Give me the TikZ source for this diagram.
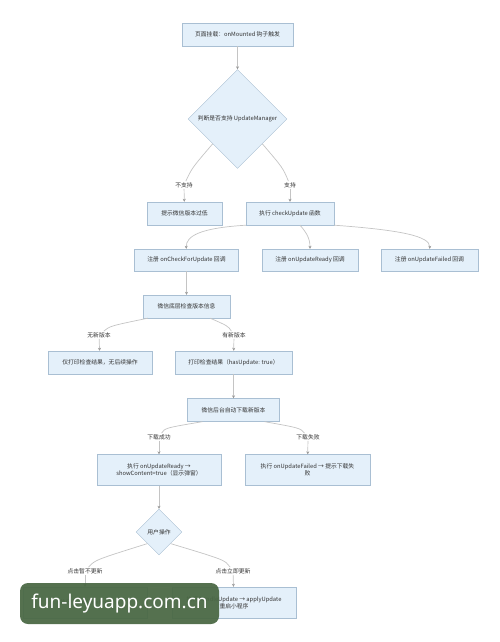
\documentclass[tikz,border=0pt]{standalone}
\usepackage{fontspec}
\setmainfont{Noto Sans CJK SC}
\newfontfamily\wmfont{Noto Sans}
\usepackage{tikz}
\usetikzlibrary{arrows.meta, shapes.geometric}
\definecolor{boxfill}{HTML}{E4F0FA}
\definecolor{boxline}{HTML}{A9BFD3}
\definecolor{wire}{HTML}{C4C4C4}
\definecolor{tipgray}{HTML}{9A9A9A}
\definecolor{ink}{HTML}{333333}
\definecolor{wmgreen}{HTML}{4A6844}

\begin{document}
\begin{tikzpicture}[x=1pt, y=-1pt, font=\fontsize{5.8}{7.4}\selectfont,
  bx/.style={draw=boxline, fill=boxfill, minimum width=#1, minimum height=23pt,
             inner sep=2pt, text=ink, align=center},
  dm/.style={diamond, draw=boxline, fill=boxfill, minimum width=#1, minimum height=#1,
             inner sep=0pt, text=ink},
  lb/.style={fill=white, inner sep=1pt, text=ink},
  ln/.style={draw=wire, line width=0.7pt},
  ar/.style={ln, -{Stealth[length=3pt, width=3pt, color=tipgray]}},
  wm/.style={fill=wmgreen, fill opacity=0.94, text opacity=1, rounded corners=8pt,
             minimum width=199pt, minimum height=41pt, text=white,
             font=\wmfont\fontsize{19}{22}\selectfont}]
  \useasboundingbox (0,0) rectangle (500,642);
  % --- start and check ---
  \node[bx=111pt] (top) at (237.5,34.5) {页面挂载：onMounted 钩子触发};
  \node[dm=99pt] (d1) at (237.5,119) {判断是否支持 UpdateManager};
  \node[lb] (lns) at (184,185) {不支持};
  \node[lb] (ls) at (290,185) {支持};
  \node[bx=75pt] (low) at (184.5,213.5) {提示微信版本过低};
  \node[bx=88pt] (chk) at (290,213.5) {执行 checkUpdate 函数};
  % --- callbacks ---
  \node[bx=104pt, minimum height=22pt] (r1) at (186.5,260) {注册 onCheckForUpdate 回调};
  \node[bx=96pt, minimum height=22pt] (r2) at (310,260) {注册 onUpdateReady 回调};
  \node[bx=97pt, minimum height=22pt] (r3) at (429.5,260) {注册 onUpdateFailed 回调};
  % --- version check ---
  \node[bx=87pt] (info) at (186.5,306.5) {微信底层检查版本信息};
  \node[lb] (lnone) at (99,335) {无新版本};
  \node[lb] (lhas) at (234,335) {有新版本};
  \node[bx=104pt] (none) at (100,362.5) {仅打印检查结果，无后续操作};
  \node[bx=117pt] (has) at (233.5,362.5) {打印检查结果（hasUpdate: true）};
  % --- download ---
  \node[bx=92pt] (dl) at (233.5,410) {微信后台自动下载新版本};
  \node[lb] (lok) at (159,437) {下载成功};
  \node[lb] (lbad) at (308,437) {下载失败};
  \node[bx=124pt, minimum height=31pt] (ready) at (159,470)
    {执行 onUpdateReady →\\showContent=true（显示弹窗）};
  \node[bx=125pt, minimum height=31pt] (failed) at (307.5,470)
    {执行 onUpdateFailed → 提示下载失\\败};
  % --- user choice ---
  \node[dm=46pt] (d2) at (159,532) {用户操作};
  \node[lb] (lno) at (85,571) {点击暂不更新};
  \node[lb] (lyes) at (233,571) {点击立即更新};
  \node[bx=124pt, minimum height=31pt] (refuse) at (85,602.5) {执行 handleRefuse};
  \node[bx=124pt, minimum height=31pt] (upd) at (234,602.5)
    {执行 handleUpdate → applyUpdate\\重启小程序};
  % --- connectors ---
  \draw[ar] (top) -- (d1);
  \draw[ln] (d1.south west) .. controls (192,168) .. (lns);
  \draw[ar] (lns) -- (low);
  \draw[ln] (d1.south east) .. controls (283,168) .. (ls);
  \draw[ar] (ls) -- (chk);
  \draw[ar] (chk.south west) .. controls (200,228) and (186,236) .. (r1);
  \draw[ar] ([xshift=10pt]chk.south) .. controls (306,232) and (310,238) .. (r2);
  \draw[ar] (chk.south east) .. controls (400,230) and (430,236) .. (r3);
  \draw[ar] (r1) -- (info);
  \draw[ln] ([xshift=5pt]info.south west) .. controls (110,326) .. (lnone);
  \draw[ar] (lnone) -- (none);
  \draw[ln] ([xshift=-20pt]info.south east) .. controls (228,326) .. (lhas);
  \draw[ar] (lhas) -- (has);
  \draw[ar] (has) -- (dl);
  \draw[ln] ([xshift=15pt]dl.south west) .. controls (165,428) .. (lok);
  \draw[ar] (lok) -- (ready);
  \draw[ln] ([xshift=-15pt]dl.south east) .. controls (300,428) .. (lbad);
  \draw[ar] (lbad) -- (failed);
  \draw[ar] (ready) -- (d2);
  \draw[ln] (d2.south west) .. controls (95,560) .. (lno);
  \draw[ar] (lno) -- (refuse);
  \draw[ln] (d2.south east) .. controls (225,560) .. (lyes);
  \draw[ar] (lyes) -- (upd);
  % --- overlay ---
  \node[wm] (mark) at (119.5,603.5) {fun-leyuapp.com.cn};
\end{tikzpicture}
\end{document}
